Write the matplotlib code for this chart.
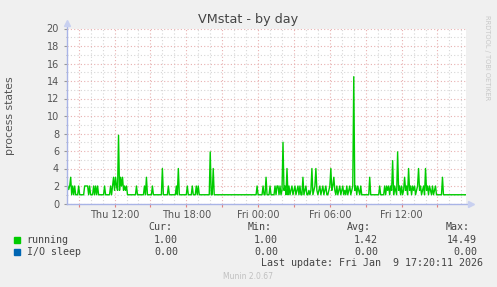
import matplotlib
matplotlib.use("Agg")
import matplotlib.pyplot as plt
import matplotlib.dates as mdates
import matplotlib.ticker as mticker
import pandas as pd

# 5 minute samples, Thu Jan 8 2026 08:05 -> Fri Jan 9 2026 17:20
running = [
    2, 1.6, 2, 3, 1, 2, 1, 2, 1, 1, 1, 2, 1, 1, 1, 1, 1, 2, 2, 2,
    2, 1, 2, 1, 1, 1, 2, 1, 2, 1, 2, 1, 1, 1, 1, 1, 1, 2, 1, 1,
    1, 1, 1, 2, 1, 2, 3, 1.5, 3, 2, 1.5, 7.8, 1.5, 3, 2, 3, 1.5, 2, 1.5, 2,
    1, 1, 1, 1, 1, 1, 1, 1, 1, 2, 1, 1, 1, 1, 1, 1, 1, 2, 1, 3,
    1, 1, 1, 1, 1, 2, 1, 1, 1, 1, 1, 1, 1, 1, 1, 4, 1, 1, 1, 1,
    1, 2, 1, 1, 1, 1, 1, 1, 1, 2, 1, 4, 1, 1, 1, 1, 1, 1, 1, 1,
    2, 1, 1, 1, 1, 2, 1, 1, 1, 2, 1, 2, 1, 1, 1, 1, 1, 1, 1, 1,
    1, 1, 1, 5.9, 1, 1, 4, 1, 1, 1, 1, 1, 1, 1, 1, 1, 1, 1, 1, 1,
    1, 1, 1, 1, 1, 1, 1, 1, 1, 1, 1, 1, 1, 1, 1, 1, 1, 1, 1, 1,
    1, 1, 1, 1, 1, 1, 1, 1, 1, 1, 2, 1, 1, 1, 1, 1, 2, 1, 1, 3,
    1, 1, 1, 2, 1, 1, 1, 1, 2, 1, 2, 2, 1, 2, 1, 1.5, 7, 1.5, 2, 1,
    4, 1, 2, 1, 1.5, 2, 1, 1.5, 2, 1, 1.5, 2, 1, 2, 1, 1, 3, 1, 1.5, 2,
    1, 1, 1.5, 1, 1.5, 4, 1, 1.5, 2, 4, 1.5, 1, 1.5, 2, 1, 1.5, 2, 1, 1.5, 2,
    1, 1, 1.5, 2, 4, 1.5, 2, 3, 1.5, 1, 2, 1, 1.5, 2, 1, 1.5, 2, 1, 1.5, 1,
    2, 1, 1.5, 2, 1, 1.5, 2, 14.49, 1.5, 2, 1, 2, 1.5, 1, 2, 1, 1, 1, 1, 1,
    1, 1, 1, 3, 1, 1, 1, 1, 1, 1, 1, 1, 1, 2, 1, 1, 1, 1, 2, 1,
    2, 1.5, 2, 1, 2, 1.5, 4.9, 1, 2, 1.5, 1, 5.9, 1.5, 2, 1, 2, 1, 1.5, 3, 1.5,
    2, 1, 4, 1.5, 2, 1, 2, 1.5, 2, 1, 1.5, 2, 4, 1.5, 2, 1, 1.5, 2, 1, 4,
    1.5, 2, 1, 2, 1.5, 1, 2, 1, 1.5, 2, 1, 1, 1, 1, 1, 1, 3, 1, 1, 1,
    1, 1, 1, 1, 1, 1, 1, 1, 1, 1, 1, 1, 1, 1, 1, 1, 1, 1, 1, 1,
]
times = pd.date_range("2026-01-08 08:05", periods=len(running), freq="5min")

series = ["running", "I/O sleep"]
colors = ["#00CC00", "#0066B3"]
cur = ["1.00", "0.00"]
mins = ["1.00", "0.00"]
avgs = ["1.42", "0.00"]
maxs = ["14.49", "0.00"]

W, H = 497, 287
fig = plt.figure(figsize=(W / 100, H / 100), dpi=100, facecolor="#F0F0F0")
ax = fig.add_axes([66.7 / W, (H - 203.5) / H, 399.7 / W, 175 / H])
ax.set_facecolor("white")

ax.plot(times, running, color=colors[0], lw=1.0)

ax.set_xlim(times[0] - pd.Timedelta("5min"), times[-1] + pd.Timedelta("5min"))
ax.set_ylim(0, 20)

ax.yaxis.set_major_locator(mticker.MultipleLocator(2))
ax.yaxis.set_minor_locator(mticker.MultipleLocator(1))
ax.xaxis.set_major_locator(mdates.HourLocator(byhour=range(0, 24, 3)))
ax.xaxis.set_minor_locator(mdates.HourLocator())


def xfmt(v, pos):
    d = mdates.num2date(v)
    return d.strftime("%a %H:%M") if d.hour % 6 == 0 else ""


ax.xaxis.set_major_formatter(mticker.FuncFormatter(xfmt))

ax.grid(which="major", color="#E8B0B0", linestyle=(0, (1, 2)), lw=0.8)
ax.grid(which="minor", color="#D6D6D6", linestyle=(0, (1, 2)), lw=0.8)
ax.set_axisbelow(True)

for s in ax.spines.values():
    s.set_visible(False)
axis_col = "#A9B4E6"
ax.plot([0, 0], [0, 1.03], transform=ax.transAxes, color=axis_col, lw=1, clip_on=False)
ax.plot([0, 1.012], [0, 0], transform=ax.transAxes, color=axis_col, lw=1, clip_on=False)
ax.plot([0], [1.03], marker="^", ms=5, color="#C8D0F0", transform=ax.transAxes, clip_on=False)
ax.plot([1.012], [0], marker=">", ms=5, color="#C8D0F0", transform=ax.transAxes, clip_on=False)

ax.tick_params(axis="both", which="major", labelsize=7, labelcolor="#555555", length=2)
ax.tick_params(axis="y", which="both", color="#999999")
ax.tick_params(axis="x", which="major", color="#E08080", pad=3)
ax.tick_params(axis="x", which="minor", length=0)
ax.tick_params(axis="y", which="minor", length=1)

fig.text(248 / W, 1 - 19 / H, "VMstat - by day", ha="center", va="center",
         fontsize=9.2, color="#444444")
fig.text(10 / W, 1 - 116 / H, "process states", rotation=90, ha="center",
         va="center", fontsize=7.8, color="#555555")
fig.text(487 / W, 1 - 58 / H, "RRDTOOL / TOBI OETIKER", rotation=270,
         ha="center", va="center", fontsize=4.8, color="#C8C8C8")

mono = dict(family="DejaVu Sans Mono", fontsize=7.2, color="#444444")
hy = 1 - 227 / H
for x, lab in [(172, "Cur:"), (272, "Min:"), (371, "Avg:"), (470, "Max:")]:
    fig.text(x / W, hy, lab, ha="right", va="center", **mono)
for i, name in enumerate(series):
    y = 1 - (239.7 + 12 * i) / H
    fig.patches.append(plt.Rectangle((14 / W, y - 3 / H), 6 / W, 6 / H,
                                     transform=fig.transFigure, color=colors[i]))
    fig.text(26.7 / W, y, name, ha="left", va="center", **mono)
    fig.text(178 / W, y, cur[i], ha="right", va="center", **mono)
    fig.text(278 / W, y, mins[i], ha="right", va="center", **mono)
    fig.text(378 / W, y, avgs[i], ha="right", va="center", **mono)
    fig.text(477 / W, y, maxs[i], ha="right", va="center", **mono)
fig.text(483 / W, 1 - 263.5 / H, "Last update: Fri Jan  9 17:20:11 2026",
         ha="right", va="center", **mono)
fig.text(248 / W, 1 - 276.5 / H, "Munin 2.0.67", ha="center", va="center",
         fontsize=5.5, color="#C0C0C0")

fig.savefig("out.png", dpi=100, facecolor=fig.get_facecolor())
